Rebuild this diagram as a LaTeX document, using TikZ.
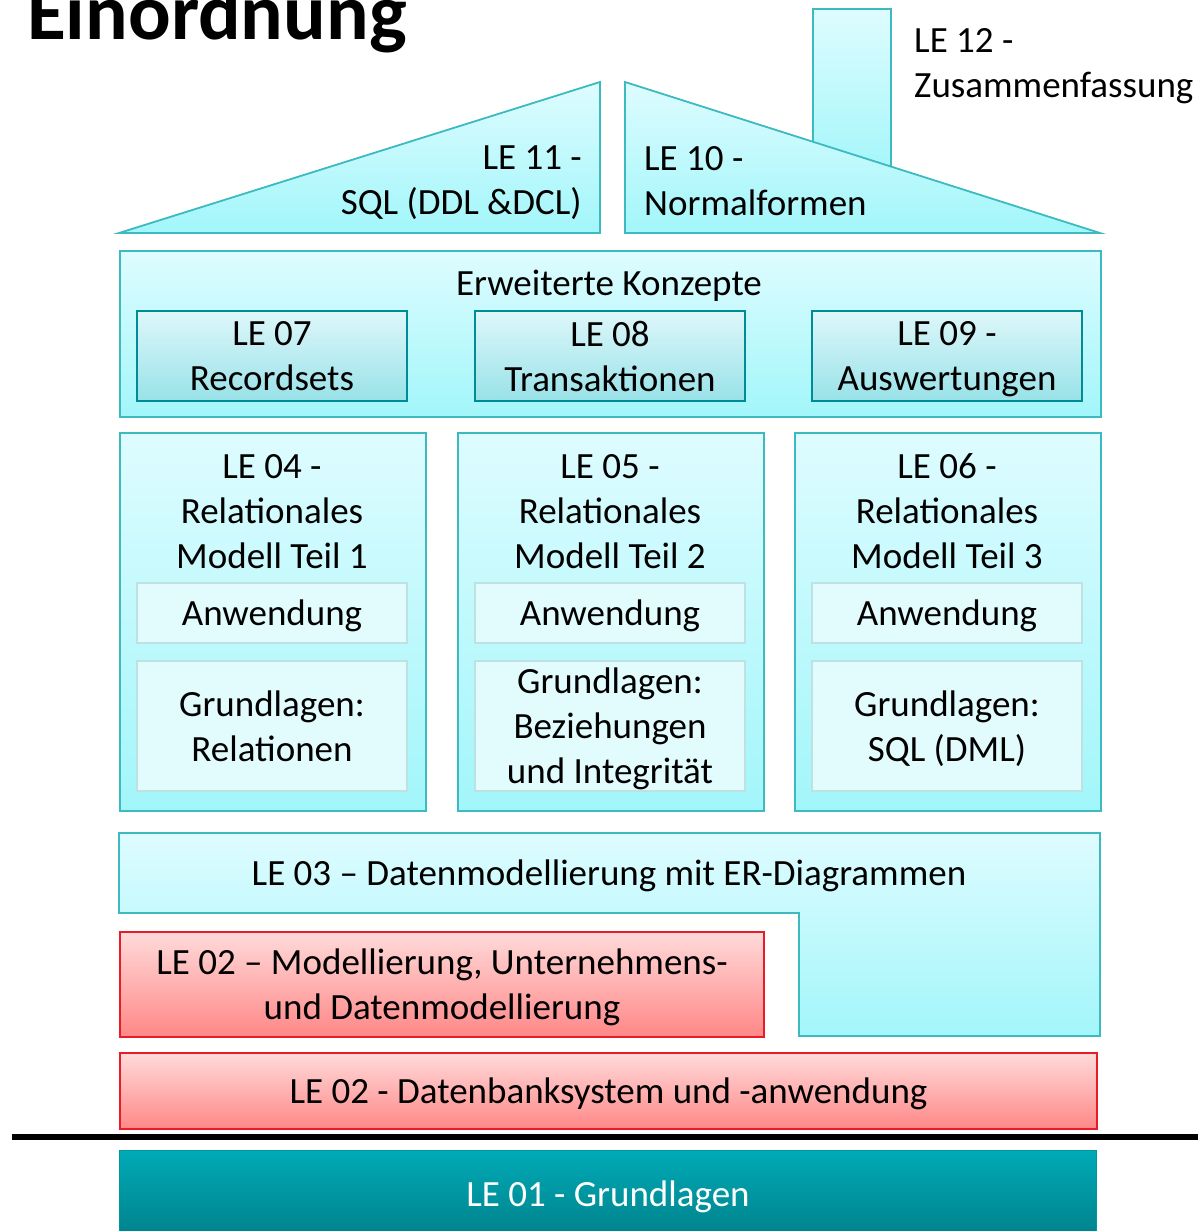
\documentclass[tikz,border=0pt]{standalone}
\usepackage{fontspec}
\setmainfont{Carlito}
\usepackage{tikz}
\usetikzlibrary{positioning}

\begin{document}
\begin{tikzpicture} [x=1pt, y=-1pt,
txt/.style      = { font=\fontsize{37}{45}\selectfont, align=center,
    inner sep=0pt, text depth=0pt },
outer/.style    = { rectangle, draw=cyanline, line width=1.8pt,
    top color=cyantop, bottom color=cyanbot,
    anchor=north west, inner sep=0pt },
roof/.style     = { draw=cyanline, line width=1.8pt,
    top color=cyantop, bottom color=cyanbot },
topic/.style    = { rectangle, draw=tealline, line width=2pt, txt,
    top color=topictop, bottom color=topicbot,
    minimum width=270pt, minimum height=90pt },
part/.style     = { rectangle, draw=partline, line width=1.8pt, txt,
    fill=partfill, minimum width=270pt },
redbox/.style   = { rectangle, draw=redline, line width=2pt, txt,
    top color=redtop, bottom color=redbot, anchor=north west },
ground/.style   = { rectangle, draw=groundline, line width=1pt, txt,
    top color=groundtop, bottom color=groundbot, text=white,
    anchor=north west },
]
\definecolor{cyantop}{RGB}{222,252,255}
\definecolor{cyanbot}{RGB}{162,246,250}
\definecolor{cyanline}{RGB}{60,186,192}
\definecolor{topictop}{RGB}{222,247,250}
\definecolor{topicbot}{RGB}{152,226,232}
\definecolor{tealline}{RGB}{0,140,150}
\definecolor{partfill}{RGB}{226,252,254}
\definecolor{partline}{RGB}{190,226,228}
\definecolor{redtop}{RGB}{255,218,218}
\definecolor{redbot}{RGB}{255,135,135}
\definecolor{redline}{RGB}{232,28,38}
\definecolor{groundtop}{RGB}{0,170,182}
\definecolor{groundbot}{RGB}{0,130,140}
\definecolor{groundline}{RGB}{0,150,160}
\useasboundingbox (0,0) rectangle (1198,1231);

% Titel
\node[anchor=base west, inner sep=0pt,
    font=\fontsize{79.5}{90}\selectfont\bfseries] (title) at (27,40) {Einordnung};

% Dach mit Schornstein
\node[outer, minimum width=78pt, minimum height=170pt] (chimney) at (812,8) {};
\path[roof] (119,233) -- (600,82) -- (600,233) -- cycle;
\path[roof] (625,82) -- (1100,233) -- (625,233) -- cycle;
\node[txt, align=right, anchor=east] (le11) at (582,180) {LE 11 -\\SQL (DDL \&DCL)};
\node[txt, align=left, anchor=west] (le10) at (644,181) {LE 10 -\\Normalformen};
\node[txt, align=left, anchor=west] (le12) at (914,63) {LE 12 -\\Zusammenfassung};

% Erweiterte Konzepte
\node[outer, minimum width=981pt, minimum height=166pt] (konzepte) at (119,250) {};
\node[txt] (konzepttitel) at (609,283) {Erweiterte Konzepte};
\node[topic] (le07) at (272,356) {LE 07\\Recordsets};
\node[topic] (le08) at (610,356) {LE 08\\Transaktionen};
\node[topic] (le09) at (947,356) {LE 09 -\\Auswertungen};

% Saeulen
\node[outer, minimum width=306pt, minimum height=378pt] (col1) at (119,432) {};
\node[outer, minimum width=306pt, minimum height=378pt] (col2) at (457,432) {};
\node[outer, minimum width=306pt, minimum height=378pt] (col3) at (794,432) {};
\node[txt] (le04) at (272,511) {LE 04 -\\Relationales\\Modell Teil 1};
\node[txt] (le05) at (610,511) {LE 05 -\\Relationales\\Modell Teil 2};
\node[txt] (le06) at (947,511) {LE 06 -\\Relationales\\Modell Teil 3};
\node[part, minimum height=60pt] (anw1) at (272,613) {Anwendung};
\node[part, minimum height=60pt] (anw2) at (610,613) {Anwendung};
\node[part, minimum height=60pt] (anw3) at (947,613) {Anwendung};
\node[part, minimum height=130pt, below=16pt of anw1] (grund1) {Grundlagen:\\Relationen};
\node[part, minimum height=130pt, below=16pt of anw2] (grund2) {Grundlagen:\\Beziehungen\\und Integrit\"at};
\node[part, minimum height=130pt, below=16pt of anw3] (grund3) {Grundlagen:\\SQL (DML)};

% Fundament
\path[roof] (119,833) -- (1100,833) -- (1100,1036) -- (799,1036) -- (799,913) -- (119,913) -- cycle;
\node[txt] (le03) at (609,873) {LE 03 -- Datenmodellierung mit ER-Diagrammen};
\node[redbox, minimum width=644pt, minimum height=105pt] (le02a) at (119,931)
    {LE 02 -- Modellierung, Unternehmens-\\und Datenmodellierung};
\node[redbox, minimum width=977pt, minimum height=76pt] (le02b) at (119,1052)
    {LE 02 - Datenbanksystem und -anwendung};

% Boden
\coordinate (floorL) at (12,1137);
\coordinate (floorR) at (1198,1137);
\draw[line width=6pt] (floorL) -- (floorR);
\node[ground, minimum width=977pt, minimum height=86pt] (le01) at (119,1150)
    {LE 01 - Grundlagen};

\end{tikzpicture}
\end{document}
